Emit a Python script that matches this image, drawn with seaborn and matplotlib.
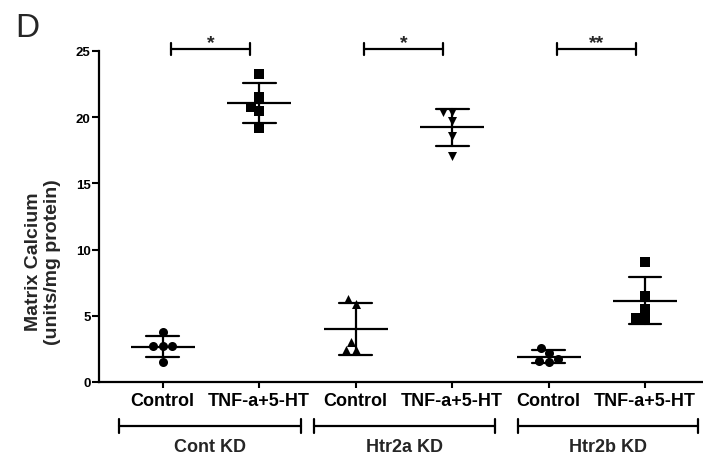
import numpy as np
import pandas as pd
import matplotlib
matplotlib.use('Agg')
import matplotlib.pyplot as plt
import seaborn as sns

# ── data ────────────────────────────────────────────────────
groups = ['Cont KD', 'Htr2a KD', 'Htr2b KD']
treatments = ['Control', 'TNF-a+5-HT']
markers = ['o', 's', '^', 'v', 'o', 's']

cont_ctrl = [3.8, 2.7, 2.7, 2.7, 1.5]
cont_tnf = [23.3, 21.5, 20.8, 20.5, 19.2]
htr2a_ctrl = [6.3, 5.9, 3.0, 2.4, 2.4]
htr2a_tnf = [20.4, 20.4, 19.7, 18.6, 17.1]
htr2b_ctrl = [2.6, 2.2, 1.7, 1.6, 1.5]
htr2b_tnf = [9.1, 6.5, 5.5, 4.8, 4.8]

sig_labels = ['*', '*', '**']

series = [cont_ctrl, cont_tnf, htr2a_ctrl, htr2a_tnf, htr2b_ctrl, htr2b_tnf]
conds = [f'{g}|{t}' for g in groups for t in treatments]

rows = []
for c, vals in zip(conds, series):
    for v in vals:
        rows.append({'cond': c, 'value': v})
df = pd.DataFrame(rows)

# ── style ───────────────────────────────────────────────────
sns.set_style('ticks')
plt.rcParams['font.family'] = ['Liberation Sans', 'DejaVu Sans']
plt.rcParams['font.weight'] = 'bold'

fig = plt.figure(figsize=(7.03, 4.60), dpi=100)
ax = fig.add_axes([99 / 703, 1 - 383 / 460, 603 / 703, 331 / 460])

# individual points
for c, m in zip(conds, markers):
    sns.swarmplot(data=df[df['cond'] == c], x='cond', y='value', order=conds,
                  marker=m, color='black', size=6.5, linewidth=0, ax=ax)

# mean +/- SD
sns.pointplot(data=df, x='cond', y='value', order=conds, errorbar='sd',
              capsize=0.34, linestyle='none', marker='_', markersize=46,
              markeredgewidth=1.6, color='black',
              err_kws={'linewidth': 1.6}, ax=ax)

ax.set_xlim(-0.66, 5.59)
ax.set_ylim(0, 25)
ax.set_yticks([0, 5, 10, 15, 20, 25])
ax.set_xticks(range(len(conds)))
ax.set_xticklabels([c.split('|')[1] for c in conds], fontsize=13, fontweight='bold')
ax.set_xlabel('')
ax.set_ylabel('')
for lab in ax.get_yticklabels():
    lab.set_fontsize(9.5)
    lab.set_fontweight('bold')
ax.tick_params(axis='y', length=5, width=1.5, pad=1, colors='black')
ax.tick_params(axis='x', length=4.5, width=1.5, pad=2.5, colors='black')
sns.despine(ax=ax)
for s in ['left', 'bottom']:
    ax.spines[s].set_linewidth(1.6)
    ax.spines[s].set_color('black')

# significance brackets above
for i, lab in enumerate(sig_labels):
    mid = 2 * i + 0.5
    x0, x1 = mid - 0.41, mid + 0.41
    yb = 25.15
    ax.plot([x0, x1], [yb, yb], color='black', lw=1.6, clip_on=False)
    ax.plot([x0, x0], [yb - 0.45, yb + 0.45], color='black', lw=1.6, clip_on=False)
    ax.plot([x1, x1], [yb - 0.45, yb + 0.45], color='black', lw=1.6, clip_on=False)
    ax.text(mid, 25.6, lab, ha='center', va='center', fontsize=14,
            fontweight='bold')

# group brackets below the axis
trans = ax.get_xaxis_transform()
spans = [(-0.45, 1.43), (1.57, 3.44), (3.68, 5.55)]
for g, (x0, x1) in zip(groups, spans):
    yb = -0.133
    ax.plot([x0, x1], [yb, yb], color='black', lw=1.6, transform=trans, clip_on=False)
    for x in (x0, x1):
        ax.plot([x, x], [yb - 0.02, yb + 0.02], color='black', lw=1.6,
                transform=trans, clip_on=False)
    ax.text((x0 + x1) / 2, -0.196, g, ha='center', va='center', fontsize=13,
            fontweight='bold', transform=trans)

# y label and panel letter
fig.text(43 / 703, 1 - 262 / 460, 'Matrix Calcium\n(units/mg protein)',
         rotation=90, ha='center', va='center', fontsize=14, fontweight='bold',
         linespacing=1.15)
fig.text(15 / 703, 1 - 37 / 460, 'D', ha='left', va='baseline', fontsize=24,
         fontweight='normal')

plt.savefig('out.png', dpi=100)
plt.close()
